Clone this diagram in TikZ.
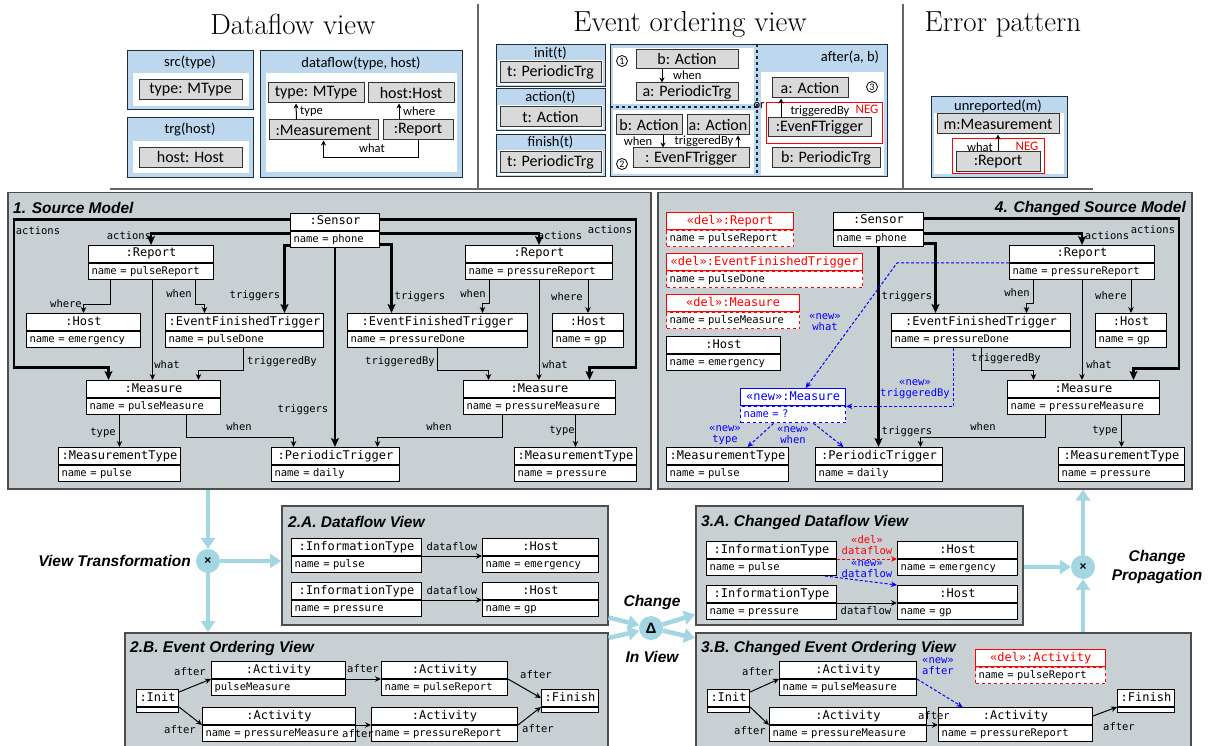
\documentclass[tikz,border=0pt]{standalone}
\usepackage{fontspec}
\setmonofont{DejaVu Sans Mono}
\newfontfamily\arialfam{Liberation Sans}
\newfontfamily\calibfam{Carlito}
\usetikzlibrary{arrows.meta, positioning, calc}
\definecolor{panelgray}{HTML}{C8D0D4}
\definecolor{panelline}{HTML}{4D4D4D}
\definecolor{patblue}{HTML}{BDD7EE}
\definecolor{patline}{HTML}{1E2B3C}
\definecolor{patgray}{HTML}{D9D9D9}
\definecolor{flowblue}{HTML}{A3D5E2}
\definecolor{sepgray}{HTML}{666666}
\newcommand{\objtfont}{\ttfamily\fontsize{12}{14}\selectfont}
\newcommand{\objafont}{\ttfamily\fontsize{10.5}{12}\selectfont}
\newcommand{\edgefont}{\ttfamily\fontsize{10.5}{11}\selectfont}
\newcommand{\patfont}{\calibfam\fontsize{16}{18}\selectfont}
\newcommand{\pathdfont}{\calibfam\fontsize{14.5}{16}\selectfont}
\newcommand{\patlblfont}{\calibfam\fontsize{12.5}{14}\selectfont}
\newcommand{\umlobj}[7][plainobj]{%
  \pgfmathsetmacro{\attrw}{#5-6}%
  \node[objtitle, minimum width=#5pt, #1 title] (#2) at (#3,#4) {#6};
  \node[objattr, text width=\attrw pt, #1 attr] (#2-a) at (#2.south west) {#7};
}

\begin{document}
\begin{tikzpicture}[
        x=1pt, y=-1pt,
        viewtitle/.style={font=\fontsize{29}{31}\selectfont, inner sep=0pt},
        sepline/.style={draw=sepgray, line width=1.5pt},
        patbox/.style={draw=patline, fill=patblue, line width=1.4pt, anchor=north west, inner sep=0pt},
        patwhite/.style={fill=white, draw=none, anchor=north west, inner sep=0pt},
        patitem/.style={draw=black!80, fill=patgray, line width=1pt, font=\patfont, inner sep=0pt, minimum height=20pt},
        pathead/.style={font=\pathdfont, inner sep=1pt},
        patlbl/.style={font=\patlblfont, inner sep=1pt},
        patarrow/.style={-{Stealth[length=5pt, width=5pt]}, line width=1pt},
        negbox/.style={draw=red, line width=1pt, anchor=north west, inner sep=0pt},
        neglbl/.style={font=\calibfam\fontsize{13}{14}\selectfont, text=red, inner sep=0pt},
        circnum/.style={draw, circle, line width=0.8pt, inner sep=0pt, minimum size=11pt, font=\calibfam\fontsize{10}{10}\selectfont},
        panelbox/.style={fill=panelgray, draw=panelline, line width=1.5pt, anchor=north west, inner sep=0pt},
        paneltitle/.style={font=\arialfam\bfseries\itshape\fontsize{15.5}{17}\selectfont, anchor=west, inner sep=0pt},
        objtitle/.style={anchor=north west, draw, fill=white, line width=1pt, font=\objtfont, inner xsep=3pt, inner ysep=0pt, minimum height=17pt, text height=9pt, text depth=3pt},
        objattr/.style={anchor=north west, draw, fill=white, line width=1pt, font=\objafont, inner xsep=3pt, inner ysep=0pt, minimum height=16pt, text height=8pt, text depth=2.5pt, align=left},
        plainobj title/.style={},
        plainobj attr/.style={},
        delobj title/.style={draw=red, text=red, line width=1.3pt},
        delobj attr/.style={draw=red, dashed, line width=1.1pt},
        newobj title/.style={draw=blue, text=blue, line width=1.3pt},
        newobj attr/.style={draw=blue, dashed, text=blue, line width=1.1pt},
        edgelbl/.style={font=\edgefont, inner sep=0pt},
        thicklink/.style={-{Stealth[length=9pt, width=8pt, inset=2pt]}, line width=2.6pt},
        thinlink/.style={-{Stealth[length=6pt, width=5.5pt]}, line width=1pt},
        newlink/.style={-{Stealth[length=6pt, width=5.5pt]}, line width=1pt, blue, dash pattern=on 3pt off 2pt},
        dellink/.style={-{Stealth[length=6pt, width=5.5pt]}, line width=1pt, red, dash pattern=on 3pt off 2pt},
        newlbl/.style={font=\edgefont, text=blue, align=center, inner sep=0pt},
        flowcirc/.style={circle, fill=flowblue, minimum size=24pt, inner sep=0pt, font=\arialfam\bfseries\fontsize{12}{12}\selectfont},
        flowarrow/.style={-{Triangle[length=11pt, width=14pt]}, line width=4.5pt, flowblue},
        flowlbl/.style={font=\arialfam\bfseries\itshape\fontsize{15.5}{19}\selectfont, align=center, inner sep=0pt}
    ]
    \useasboundingbox (0,0) rectangle (1208,746);

    \node[viewtitle] (ttl-df) at (293,24) {Dataflow view};
    \node[viewtitle] (ttl-eo) at (690,24) {Event ordering view};
    \node[viewtitle] (ttl-ep) at (1003,24) {Error pattern};
    \draw[sepline] (478,4) -- (478,188);
    \draw[sepline] (903,4) -- (903,188);
    \draw[sepline] (110,189) -- (1093,189);

    % dataflow view patterns
    \node[patbox, minimum width=126pt, minimum height=59pt] (src) at (127,50) {};
    \node[pathead] (src-h) at (190,62) {src(type)};
    \node[patwhite, minimum width=116pt, minimum height=33pt] (src-w) at (133,73) {};
    \node[patitem, minimum width=103pt] (src-i) at (190.5,89.5) {type: MType};
    \node[patbox, minimum width=126pt, minimum height=60pt] (trg) at (127,117) {};
    \node[pathead] (trg-h) at (190,129) {trg(host)};
    \node[patwhite, minimum width=116pt, minimum height=32pt] (trg-w) at (133,141) {};
    \node[patitem, minimum width=103pt] (trg-i) at (190.5,157.5) {host: Host};
    \node[patbox, minimum width=202pt, minimum height=127pt] (dfp) at (260,50) {};
    \node[pathead] (dfp-h) at (361,63) {dataflow(type, host)};
    \node[patwhite, minimum width=191pt, minimum height=99pt] (dfp-w) at (266,73) {};
    \node[patitem, minimum width=96pt] (dfp-type) at (316,93) {type: MType};
    \node[patitem, minimum width=86pt] (dfp-host) at (411,93) {host:Host};
    \node[patitem, minimum width=109pt] (dfp-meas) at (323.5,130) {:Measurement};
    \node[patitem, minimum width=70pt] (dfp-rep) at (418,130) {:Report};
    \draw[patarrow] ($(dfp-meas.north)+(-27,0)$) -- ($(dfp-type.south)+(-20,0)$);
    \node[patlbl, anchor=west] (dfp-l1) at (299,112) {type};
    \draw[patarrow] ($(dfp-rep.north)+(-19,0)$) -- ($(dfp-host.south)+(-12,0)$);
    \node[patlbl, anchor=west] (dfp-l2) at (402,111) {where};
    \draw[patarrow] (dfp-rep.south) -- ++(0,17) -| (dfp-meas.south);
    \node[patlbl] (dfp-l3) at (372,148) {what};

    % event ordering patterns
    \node[patbox, minimum width=109pt, minimum height=42pt] (ini) at (496,44) {};
    \node[pathead] (ini-h) at (550.5,53) {init(t)};
    \node[patwhite, anchor=center, minimum width=105pt, minimum height=25pt] (ini-w) at (550.5,72.5) {};
    \node[patitem, minimum width=101pt, minimum height=21pt] (ini-i) at (550.5,72.5) {t: PeriodicTrg};
    \node[patbox, minimum width=109pt, minimum height=42pt] (act) at (496,88) {};
    \node[pathead] (act-h) at (550.5,97) {action(t)};
    \node[patwhite, anchor=center, minimum width=105pt, minimum height=24pt] (act-w) at (550.5,117) {};
    \node[patitem, minimum width=101pt] (act-i) at (550.5,117) {t: Action};
    \node[patbox, minimum width=109pt, minimum height=42pt] (fin) at (496,134) {};
    \node[pathead] (fin-h) at (550.5,142) {finish(t)};
    \node[patwhite, anchor=center, minimum width=105pt, minimum height=25pt] (fin-w) at (550.5,162.5) {};
    \node[patitem, minimum width=101pt, minimum height=21pt] (fin-i) at (550.5,162.5) {t: PeriodicTrg};

    \node[patbox, minimum width=277pt, minimum height=132pt] (aft) at (610,44) {};
    \node[patwhite, minimum width=141pt, minimum height=56pt] (aft-w1) at (613,48) {};
    \node[patwhite, minimum width=141pt, minimum height=64pt] (aft-w2) at (613,110) {};
    \node[patwhite, minimum width=123pt, minimum height=103pt] (aft-w3) at (761,72) {};
    \draw[patline, line width=1.3pt, dashed] (757,44) -- (757,176);
    \draw[patline, line width=1.3pt, dashed] (610,107) -- (757,107);
    \node[patlbl] (aft-or) at (759,106) {or};
    \node[pathead] (aft-h) at (850,57) {after(a, b)};
    \node[circnum] (num1) at (622,61) {1};
    \node[patitem, minimum width=102pt, minimum height=19pt] (aft-b1) at (687,59.5) {b: Action};
    \node[patitem, minimum width=102pt, minimum height=18pt] (aft-a1) at (687,92) {a: PeriodicTrg};
    \draw[patarrow] ($(aft-b1.south)+(-25,0)$) -- ($(aft-a1.north)+(-25,0)$);
    \node[patlbl, anchor=west] (aft-l1) at (672,75) {when};
    \node[patitem, minimum width=66pt] (aft-b2) at (649,125) {b: Action};
    \node[patitem, minimum width=62pt] (aft-a2) at (718,125) {a: Action};
    \node[patitem, minimum width=116pt] (aft-e2) at (691,158) {: EvenFTrigger};
    \draw[patarrow] ($(aft-b2.south)+(14,0)$) -- ($(aft-e2.north)+(-28,0)$);
    \node[patlbl] (aft-l2) at (638,141) {when};
    \draw[patarrow] ($(aft-e2.north)+(47,0)$) -- ($(aft-a2.south)+(20,0)$);
    \node[patlbl] (aft-l3) at (704,141) {triggeredBy};
    \node[circnum] (num2) at (622,164) {2};
    \node[patitem, minimum width=76pt] (aft-a3) at (810,88) {a: Action};
    \node[circnum] (num3) at (872,87) {3};
    \node[negbox, minimum width=116pt, minimum height=41pt] (neg1) at (766,102) {};
    \node[neglbl] (neg1-l) at (867,109) {NEG};
    \node[patitem, minimum width=103pt, minimum height=19pt] (aft-e3) at (819.5,127.5) {:EvenFTrigger};
    \draw[patarrow] ($(aft-e3.north)+(-38.5,0)$) -- ($(aft-a3.south)+(-29,0)$);
    \node[patlbl] (aft-l4) at (820,111) {triggeredBy};
    \node[patitem, minimum width=108pt] (aft-p3) at (826,158) {b: PeriodicTrg};

    % error pattern
    \node[patbox, minimum width=136pt, minimum height=81pt] (unr) at (931,96) {};
    \node[pathead] (unr-h) at (998,106) {unreported(m)};
    \node[patwhite, minimum width=130pt, minimum height=61pt] (unr-w) at (934,113) {};
    \node[patitem, minimum width=122pt] (unr-m) at (998,124) {m:Measurement};
    \node[negbox, minimum width=92pt, minimum height=35pt] (neg2) at (952,138) {};
    \node[neglbl] (neg2-l) at (1027,146) {NEG};
    \node[patitem, minimum width=84pt] (unr-r) at (998,162) {:Report};
    \draw[patarrow] (unr-r.north) -- (unr-m.south);
    \node[patlbl] (unr-l) at (980,147) {what};

    % 1. source model
    \node[panelbox, minimum width=643pt, minimum height=296pt] (p1) at (7,192) {};
    \node[paneltitle] (p1-t) at (13,208) {1. Source Model};
    \umlobj{s1-sen}{290}{213}{89}{:Sensor}{name = phone}
    \umlobj{s1-rep1}{88}{245}{125}{:Report}{name = pulseReport}
    \umlobj{s1-host1}{26}{313}{114}{:Host}{name = emergency}
    \umlobj{s1-eft1}{165}{313}{158}{:EventFinishedTrigger}{name = pulseDone}
    \umlobj{s1-eft2}{347}{313}{180}{:EventFinishedTrigger}{name = pressureDone}
    \umlobj{s1-rep2}{465}{245}{147}{:Report}{name = pressureReport}
    \umlobj{s1-host2}{552}{313}{71}{:Host}{name = gp}
    \umlobj{s1-meas1}{86}{380}{134}{:Measure}{name = pulseMeasure}
    \umlobj{s1-meas2}{463}{380}{152}{:Measure}{name = pressureMeasure}
    \umlobj{s1-mt1}{58}{447}{122}{:MeasurementType}{name = pulse}
    \umlobj{s1-pt}{271}{447}{128}{:PeriodicTrigger}{name = daily}
    \umlobj{s1-mt2}{514}{447}{122}{:MeasurementType}{name = pressure}

    \draw[thicklink] ($(s1-sen.west)+(0,-2.5)$) -- ++(-276,0) -- ++(0,148) -| ($(s1-meas1.north)+(-45,0)$);
    \draw[thicklink] ($(s1-sen-a.west)+(0,-6)$) -| (s1-rep1.north);
    \draw[thicklink] ($(s1-sen-a.west)+(0,6)$) -| ($(s1-eft1.north)+(40,0)$);
    \draw[thicklink] (s1-sen-a.south) -- (s1-sen-a.south |- s1-pt.north);
    \draw[thicklink] ($(s1-sen-a.east)+(0,5)$) -| ($(s1-eft2.north)+(-46,0)$);
    \draw[thicklink] ($(s1-sen-a.east)+(0,-6)$) -| (s1-rep2.north);
    \draw[thicklink] ($(s1-sen.east)+(0,-2.5)$) -- ++(256,0) -- ++(0,148) -| ($(s1-meas2.north)+(50,0)$);

    \draw[thinlink] ($(s1-rep1-a.south)+(-40.5,0)$) -- ++(0,24) -| (s1-host1.north);
    \draw[thinlink] ($(s1-rep1-a.south)+(44.5,0)$) -- ++(0,24) -| ($(s1-eft1.north)+(-40,0)$);
    \draw[thinlink] ($(s1-rep1-a.south)+(1.5,0)$) -- ($(s1-meas1.north)+(-1,0)$);
    \draw[thinlink] ($(s1-eft1-a.south)+(-1,0)$) -- ++(0,22) -| ($(s1-meas1.north)+(45,0)$);
    \draw[thinlink] ($(s1-meas1-a.south)+(-34,0)$) -- (s1-mt1.north);
    \draw[thinlink] ($(s1-meas1-a.south)+(33,0)$) -- ++(0,22) -| ($(s1-pt.north)+(-42,0)$);
    \draw[thinlink] ($(s1-rep2-a.south)+(-49.5,0)$) -- ++(0,23) -| ($(s1-eft2.north)+(45,0)$);
    \draw[thinlink] (s1-rep2-a.south -| s1-host2.north) -- (s1-host2.north);
    \draw[thinlink] (s1-rep2-a.south) -- (s1-rep2-a.south |- s1-meas2.north);
    \draw[thinlink] (s1-eft2-a.south) -- ++(0,22) -| ($(s1-meas2.north)+(-51,0)$);
    \draw[thinlink] (s1-meas2-a.south -| s1-mt2.north) -- (s1-mt2.north);
    \draw[thinlink] ($(s1-meas2-a.south)+(-37,0)$) -- ++(0,22) -| ($(s1-pt.north)+(42,0)$);

    \node[edgelbl] (s1-l1) at (38,231) {actions};
    \node[edgelbl] (s1-l2) at (129,236) {actions};
    \node[edgelbl] (s1-l3) at (255,296) {triggers};
    \node[edgelbl] (s1-l4) at (420,297) {triggers};
    \node[edgelbl] (s1-l5) at (303,410) {triggers};
    \node[edgelbl] (s1-l6) at (560,236) {actions};
    \node[edgelbl] (s1-l7) at (610,230) {actions};
    \node[edgelbl] (s1-l8) at (66,304) {where};
    \node[edgelbl] (s1-l9) at (179,294) {when};
    \node[edgelbl] (s1-l10) at (167,365) {what};
    \node[edgelbl] (s1-l11) at (282,362) {triggeredBy};
    \node[edgelbl] (s1-l12) at (103,433) {type};
    \node[edgelbl] (s1-l13) at (239,427) {when};
    \node[edgelbl] (s1-l14) at (473,294) {when};
    \node[edgelbl] (s1-l15) at (567,297) {where};
    \node[edgelbl] (s1-l16) at (555,365) {what};
    \node[edgelbl] (s1-l17) at (400,362) {triggeredBy};
    \node[edgelbl] (s1-l18) at (562,431) {type};
    \node[edgelbl] (s1-l19) at (439,427) {when};

    % 4. changed source model
    \node[panelbox, minimum width=534pt, minimum height=296pt] (p4) at (657,192) {};
    \node[paneltitle, anchor=east] (p4-t) at (1186,208) {4. Changed Source Model};
    \umlobj[delobj]{s4-drep}{666}{212}{127}{«del»:Report}{name = pulseReport}
    \umlobj[delobj]{s4-deft}{666}{253}{196}{«del»:EventFinishedTrigger}{name = pulseDone}
    \umlobj[delobj]{s4-dmeas}{666}{294}{133}{«del»:Measure}{name = pulseMeasure}
    \umlobj{s4-host1}{666}{336}{114}{:Host}{name = emergency}
    \umlobj{s4-sen}{833}{212}{90}{:Sensor}{name = phone}
    \umlobj{s4-rep2}{1009}{245}{145}{:Report}{name = pressureReport}
    \umlobj{s4-eft2}{891}{313}{179}{:EventFinishedTrigger}{name = pressureDone}
    \umlobj{s4-host2}{1095}{313}{71}{:Host}{name = gp}
    \umlobj[newobj]{s4-nmeas}{740}{388}{105}{«new»:Measure}{name = ?}
    \umlobj{s4-meas2}{1007}{380}{152}{:Measure}{name = pressureMeasure}
    \umlobj{s4-mt1}{666}{447}{122}{:MeasurementType}{name = pulse}
    \umlobj{s4-pt}{815}{447}{127}{:PeriodicTrigger}{name = daily}
    \umlobj{s4-mt2}{1058}{447}{126}{:MeasurementType}{name = pressure}

    \draw[thicklink] ($(s4-sen.east)+(0,-2.5)$) -- ++(255,0) -- ++(0,150) -| ($(s4-meas2.north)+(50,0)$);
    \draw[thicklink] ($(s4-sen-a.east)+(0,-5)$) -| (s4-rep2.north);
    \draw[thicklink] ($(s4-sen-a.east)+(0,5)$) -| ($(s4-eft2.north)+(-45.5,0)$);
    \draw[thicklink] (s4-sen-a.south) -- (s4-sen-a.south |- s4-pt.north);

    \draw[thinlink] ($(s4-rep2-a.south)+(-48.5,0)$) -- ++(0,23) -| ($(s4-eft2.north)+(45.5,0)$);
    \draw[thinlink] (s4-rep2-a.south -| s4-host2.north) -- (s4-host2.north);
    \draw[thinlink] (s4-rep2-a.south) -- (s4-rep2-a.south |- s4-meas2.north);
    \draw[thinlink] (s4-eft2-a.south) -- ++(0,22) -| ($(s4-meas2.north)+(-50,0)$);
    \draw[thinlink] (s4-meas2-a.south -| s4-mt2.north) -- (s4-mt2.north);
    \draw[thinlink] ($(s4-meas2-a.south)+(-38,0)$) -- ++(0,22) -| ($(s4-pt.north)+(41.5,0)$);

    \draw[newlink] (s4-rep2.south west) -- ++(-112,0) -- ($(s4-nmeas.north)+(12.5,0)$);
    \draw[newlink] ($(s4-eft2-a.south)+(-27.5,0)$) |- (s4-nmeas.south east);
    \draw[newlink] ($(s4-nmeas-a.south)+(-19.5,0)$) -- ($(s4-mt1.north)+(20,0)$);
    \draw[newlink] ($(s4-nmeas-a.south)+(20.5,0)$) -- ($(s4-pt.north)+(-35.5,0)$);

    \node[edgelbl] (s4-l1) at (1153,230) {actions};
    \node[edgelbl] (s4-l2) at (1107,236) {actions};
    \node[edgelbl] (s4-l3) at (907,297) {triggers};
    \node[edgelbl] (s4-l4) at (907,432) {triggers};
    \node[edgelbl] (s4-l5) at (1017,293) {when};
    \node[edgelbl] (s4-l6) at (1111,296) {where};
    \node[edgelbl] (s4-l7) at (1099,365) {what};
    \node[edgelbl] (s4-l8) at (1006,359) {triggeredBy};
    \node[edgelbl] (s4-l9) at (1105,431) {type};
    \node[edgelbl] (s4-l10) at (983,427) {when};
    \node[newlbl] (s4-n1) at (825,322) {«new»\\what};
    \node[newlbl] (s4-n2) at (915,389) {«new»\\triggeredBy};
    \node[newlbl] (s4-n3) at (725,435) {«new»\\type};
    \node[newlbl] (s4-n4) at (793,435) {«new»\\when};

    % 2.A dataflow view
    \node[panelbox, minimum width=326pt, minimum height=119pt] (p2a) at (281,505) {};
    \node[paneltitle] (p2a-t) at (288,522) {2.A. Dataflow View};
    \umlobj{v2-it1}{291}{538}{130}{:InformationType}{name = pulse}
    \umlobj{v2-h1}{482}{538}{116}{:Host}{name = emergency}
    \umlobj{v2-it2}{291}{582}{130}{:InformationType}{name = pressure}
    \umlobj{v2-h2}{482}{582}{116}{:Host}{name = gp}
    \draw[thinlink] (v2-it1.south east) -- (v2-h1.south west);
    \draw[thinlink] (v2-it2.south east) -- (v2-h2.south west);
    \node[edgelbl] (v2-l1) at (452,547) {dataflow};
    \node[edgelbl] (v2-l2) at (452,591) {dataflow};

    % 2.B event ordering view
    \node[panelbox, minimum width=483pt, minimum height=125pt] (p2b) at (124,632) {};
    \node[paneltitle] (p2b-t) at (130,648) {2.B. Event Ordering View};
    \node[objtitle, minimum width=42pt] (v2-init) at (136,689) {:Init};
    \node[objattr, minimum width=42pt, minimum height=5pt, text height=0pt, text depth=0pt] (v2-init-a) at (v2-init.south west) {};
    \umlobj{v2-act1}{211}{661}{134}{:Activity}{pulseMeasure}
    \umlobj{v2-act2}{381}{661}{126}{:Activity}{name = pulseReport}
    \umlobj{v2-act3}{202}{707}{153}{:Activity}{name = pressureMeasure}
    \umlobj{v2-act4}{371}{707}{146}{:Activity}{name = pressureReport}
    \node[objtitle, minimum width=57pt] (v2-fin) at (541,689) {:Finish};
    \node[objattr, minimum width=57pt, minimum height=5pt, text height=0pt, text depth=0pt] (v2-fin-a) at (v2-fin.south west) {};
    \draw[thinlink] ($(v2-init.north east)+(0,3)$) -- (v2-act1.south west);
    \draw[thinlink] (v2-init.south east) -- (v2-act3.south west);
    \draw[thinlink] (v2-act1.south east) -- (v2-act2.south west);
    \draw[thinlink] (v2-act3.south east) -- (v2-act4.south west);
    \draw[thinlink] (v2-act2.south east) -- (v2-fin.west);
    \draw[thinlink] (v2-act4.south east) -- (v2-fin.south west);
    \node[edgelbl] (v2-l3) at (190,672) {after};
    \node[edgelbl] (v2-l4) at (180,730) {after};
    \node[edgelbl] (v2-l5) at (363,669) {after};
    \node[edgelbl] (v2-l6) at (358,734) {after};
    \node[edgelbl] (v2-l7) at (536,675) {after};
    \node[edgelbl] (v2-l8) at (538,729) {after};

    % 3.A changed dataflow view
    \node[panelbox, minimum width=327pt, minimum height=119pt] (p3a) at (695,505) {};
    \node[paneltitle] (p3a-t) at (701,522) {3.A. Changed Dataflow View};
    \umlobj{v3-it1}{706}{541}{130}{:InformationType}{name = pulse}
    \umlobj{v3-h1}{897}{541}{120}{:Host}{name = emergency}
    \umlobj{v3-it2}{706}{585}{130}{:InformationType}{name = pressure}
    \umlobj{v3-h2}{897}{585}{120}{:Host}{name = gp}
    \draw[dellink] (v3-it1.south east) -- (v3-h1.south west);
    \draw[newlink] ($(v3-it1-a.south east)+(-12,0)$) -- (v3-h2.north west);
    \draw[thinlink] (v3-it2.south east) -- (v3-h2.south west);
    \node[newlbl, text=red] (v3-l1) at (867,545) {«del»\\dataflow};
    \node[newlbl] (v3-l2) at (867,569) {«new»\\dataflow};
    \node[edgelbl] (v3-l3) at (866,611) {dataflow};

    % 3.B changed event ordering view
    \node[panelbox, minimum width=495pt, minimum height=125pt] (p3b) at (695,632) {};
    \node[paneltitle] (p3b-t) at (701,648) {3.B. Changed Event Ordering View};
    \node[objtitle, minimum width=42pt] (v3-init) at (707,689) {:Init};
    \node[objattr, minimum width=42pt, minimum height=5pt, text height=0pt, text depth=0pt] (v3-init-a) at (v3-init.south west) {};
    \umlobj{v3-act1}{779}{661}{137}{:Activity}{name = pulseMeasure}
    \umlobj{v3-act3}{769}{707}{157}{:Activity}{name = pressureMeasure}
    \umlobj{v3-act4}{938}{707}{154}{:Activity}{name = pressureReport}
    \node[objtitle, minimum width=57pt] (v3-fin) at (1117,689) {:Finish};
    \node[objattr, minimum width=57pt, minimum height=5pt, text height=0pt, text depth=0pt] (v3-fin-a) at (v3-fin.south west) {};
    \umlobj[delobj]{v3-dact}{975}{649}{130}{«del»:Activity}{name = pulseReport}
    \draw[thinlink] ($(v3-init.north east)+(0,3)$) -- (v3-act1.south west);
    \draw[thinlink] (v3-init.south east) -- (v3-act3.south west);
    \draw[thinlink] (v3-act3.south east) -- (v3-act4.south west);
    \draw[thinlink] (v3-act4.east) -- (v3-fin.south west);
    \draw[newlink] (v3-act1.south east) -- ($(v3-act4.north)+(-53,0)$);
    \node[edgelbl] (v3-l4) at (758,672) {after};
    \node[edgelbl] (v3-l5) at (750,731) {after};
    \node[edgelbl] (v3-l6) at (934,716) {after};
    \node[edgelbl] (v3-l7) at (1119,727) {after};
    \node[newlbl] (v3-l8) at (938,666) {«new»\\after};

    % flow between the models and views
    \node[flowcirc] (vt) at (208,561) {×};
    \node[flowlbl, anchor=east] (vt-l) at (191,561) {View Transformation};
    \draw[flowarrow] (vt |- p1.south) -- (vt);
    \draw[flowarrow] (vt) -- (vt -| p2a.west);
    \draw[flowarrow] (vt) -- (vt |- p2b.north);

    \node[flowcirc, font=\arialfam\bfseries\fontsize{15}{15}\selectfont] (dl) at (651,628) {Δ};
    \node[flowlbl] (dl-l1) at (652,602) {Change};
    \node[flowlbl] (dl-l2) at (652,657) {In View};
    \draw[flowarrow] ($(p2a.south east)+(0,-8)$) -- (dl);
    \draw[flowarrow] ($(p2b.north east)+(0,6)$) -- (dl);
    \draw[flowarrow] (dl) -- ($(p3a.south west)+(0,-11)$);
    \draw[flowarrow] (dl) -- ($(p3b.north west)+(0,6)$);

    \node[flowcirc] (cp) at (1083,567) {×};
    \node[flowlbl] (cp-l) at (1157,567) {Change\\Propagation};
    \draw[flowarrow] (cp -| p3a.east) -- (cp);
    \draw[flowarrow] (cp |- p3b.north) -- (cp);
    \draw[flowarrow] (cp) -- (cp |- p4.south);
\end{tikzpicture}
\end{document}
